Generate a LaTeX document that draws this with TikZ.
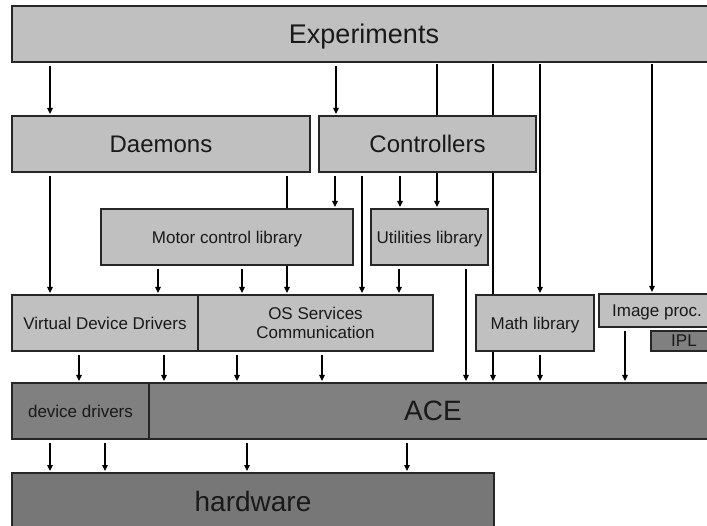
\documentclass[tikz,border=0pt]{standalone}
\usepackage{fontspec}
\setmainfont{Liberation Sans}
\usetikzlibrary{arrows.meta}
\pgfdeclarelayer{background}
\pgfsetlayers{background,main}
\definecolor{lightbox}{RGB}{192,192,192}
\definecolor{darkbox}{RGB}{128,128,128}
\definecolor{hwbox}{RGB}{119,119,119}
\tikzset{
  blk/.style={draw=black!85, line width=1.1pt, anchor=north west,
    inner sep=0pt, outer sep=0pt, align=center, text=black!90},
  lite/.style={blk, fill=lightbox},
  dark/.style={blk, fill=darkbox},
  oneline/.style={text depth=0pt},
  big/.style={font=\fontsize{27}{30}\selectfont, oneline},
  mid/.style={font=\fontsize{24}{27}\selectfont, oneline},
  huge/.style={font=\fontsize{28}{30}\selectfont, oneline},
  small/.style={font=\fontsize{17}{19}\selectfont},
  arr/.style={line width=1.2pt, black,
    -{Triangle[width=5.5pt,length=6pt]}, shorten <=4pt, shorten >=2pt}
}
\begin{document}
\begin{tikzpicture}[x=1pt,y=-1pt]
\useasboundingbox (0,0) rectangle (707,526);

% layer boxes
\node[lite,big,minimum width=704pt,minimum height=56pt] (exp) at (12,6) {Experiments};
\node[lite,mid,minimum width=298pt,minimum height=56pt] (dm) at (12,116) {Daemons};
\node[lite,mid,minimum width=217pt,minimum height=56pt] (ctl) at (319,116) {Controllers};
\node[lite,small,oneline,minimum width=252pt,minimum height=56pt] (mot) at (101,209) {Motor control library};
\node[lite,small,oneline,minimum width=117pt,minimum height=56pt] (util) at (371,209) {Utilities library};
\node[lite,small,oneline,minimum width=186pt,minimum height=56pt] (vdd) at (12,295) {Virtual Device Drivers};
\node[lite,small,minimum width=235pt,minimum height=56pt] (os) at (198,295) {OS Services\\Communication};
\node[lite,small,oneline,minimum width=118pt,minimum height=56pt] (math) at (476,295) {Math library};
\node[lite,small,oneline,minimum width=116pt,minimum height=33pt] (img) at (599,294) {Image proc.};
\node[dark,small,oneline,minimum width=66pt,minimum height=20pt] (ipl) at (651,331) {IPL};
\node[dark,small,oneline,minimum width=137pt,minimum height=56pt] (dd) at (12,383) {device drivers};
\node[dark,huge,minimum width=568pt,minimum height=56pt] (ace) at (149,383) {ACE};
\node[blk,fill=hwbox,huge,minimum width=482pt,minimum height=56pt] (hw) at (12,473) {hardware};

\begin{pgfonlayer}{background}
% from Experiments
\draw[arr] (exp.south -| 50,0) -- (dm.north -| 50,0);
\draw[arr] (exp.south -| 336,0) -- (ctl.north -| 336,0);
\draw[arr,shorten <=2pt] (exp.south -| 437,0) -- (util.north -| 437,0);
\draw[arr,shorten <=2pt] (exp.south -| 493,0) -- (ace.north -| 493,0);
\draw[arr,shorten <=2pt] (exp.south -| 540,0) -- (math.north -| 540,0);
\draw[arr,shorten <=2pt] (exp.south -| 652,0) -- (img.north -| 652,0);
% from Daemons
\draw[arr] (dm.south -| 50,0) -- (vdd.north -| 50,0);
\draw[arr] (dm.south -| 287,0) -- (os.north -| 287,0);
% from Controllers
\draw[arr] (ctl.south -| 335,0) -- (mot.north -| 335,0);
\draw[arr] (ctl.south -| 362,0) -- (os.north -| 362,0);
\draw[arr] (ctl.south -| 400,0) -- (util.north -| 400,0);
% from the libraries
\draw[arr] (mot.south -| 158,0) -- (vdd.north -| 158,0);
\draw[arr] (mot.south -| 242,0) -- (os.north -| 242,0);
\draw[arr] (util.south -| 399,0) -- (os.north -| 399,0);
\draw[arr] (util.south -| 466,0) -- (ace.north -| 466,0);
\draw[arr] (math.south -| 540,0) -- (ace.north -| 540,0);
\draw[arr] (img.south -| 625,0) -- (ace.north -| 625,0);
% into the ACE row
\draw[arr] (vdd.south -| 79,0) -- (dd.north -| 79,0);
\draw[arr] (vdd.south -| 164,0) -- (ace.north -| 164,0);
\draw[arr] (os.south -| 237,0) -- (ace.north -| 237,0);
\draw[arr] (os.south -| 322,0) -- (ace.north -| 322,0);
% down to hardware
\draw[arr] (dd.south -| 50,0) -- (hw.north -| 50,0);
\draw[arr] (dd.south -| 105,0) -- (hw.north -| 105,0);
\draw[arr] (ace.south -| 247,0) -- (hw.north -| 247,0);
\draw[arr] (ace.south -| 407,0) -- (hw.north -| 407,0);
\end{pgfonlayer}
\end{tikzpicture}
\end{document}
